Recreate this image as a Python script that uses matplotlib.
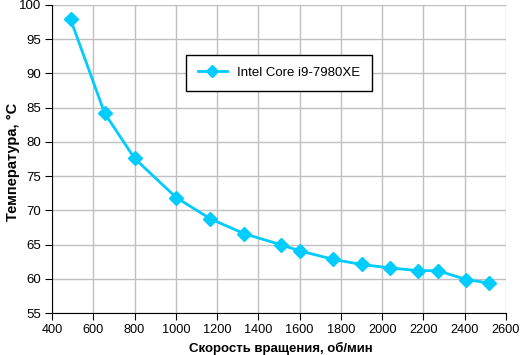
import matplotlib.pyplot as plt

plt.rcParams['font.family'] = ['Liberation Sans', 'DejaVu Sans']

rpm = [490, 655, 800, 1003, 1166, 1331, 1508, 1600, 1763, 1900, 2039, 2173, 2269, 2408, 2516]
temp = [97.9, 84.2, 77.6, 71.85, 68.8, 66.6, 65.0, 64.1, 62.85, 62.1, 61.6, 61.2, 61.2, 59.9, 59.4]
series_name = "Intel Core i9-7980XE"

fig = plt.figure(figsize=(5.2, 3.55), dpi=100)
ax = fig.add_axes([0.1, 0.118, 0.873, 0.868])

ax.plot(rpm, temp, color='#00CCFF', marker='D', markersize=7, linewidth=2,
        label=series_name, zorder=3)

ax.set_xlim(400, 2600)
ax.set_ylim(55, 100)
ax.set_xticks(range(400, 2601, 200))
ax.set_yticks(range(55, 101, 5))
ax.grid(True, color='#C0C0C0', linewidth=1)
ax.set_axisbelow(True)

for s in ['top', 'right']:
    ax.spines[s].set_visible(False)
for s in ['left', 'bottom']:
    ax.spines[s].set_color('black')
ax.tick_params(direction='out', length=5, labelsize=9.5, colors='black', pad=3)
ax.tick_params(axis='x', labelsize=9.2)

ax.set_xlabel("Скорость вращения, об/мин", fontweight='bold', fontsize=9.5)
ax.set_ylabel("Температура, °C", fontweight='bold', fontsize=10.5)
ax.xaxis.set_label_coords(0.503, -0.095)
ax.yaxis.set_label_coords(-0.07, 0.49)

leg = ax.legend(loc='center', bbox_to_anchor=(0.5, 0.78), fancybox=False,
                edgecolor='black', framealpha=1, fontsize=9.5, handlelength=2.2,
                borderpad=0.9, markerscale=0.85)
leg.get_frame().set_linewidth(1)

fig.savefig('out.png', dpi=100)
